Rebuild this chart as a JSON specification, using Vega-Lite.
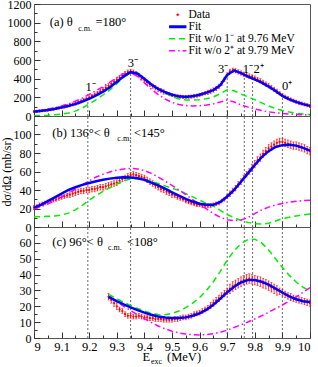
{
"$schema":"https://vega.github.io/schema/vega-lite/v6.json",
"background":"white",
"padding":{"left":-1,"right":0,"top":-3,"bottom":0},
"spacing":0,
"bounds":"flush",
"resolve":{"scale":{"color":"independent","strokeDash":"independent"},"legend":{"color":"independent","strokeDash":"independent"}},
"config":{"font":"Liberation Serif","view":{"stroke":"#555","strokeWidth":1},
"axis":{"domain":false,"grid":false,"labelFont":"Liberation Serif","labelFontSize":12,"labelColor":"#000","tickColor":"#333","titleFont":"Liberation Serif","titleFontSize":12,"titleFontWeight":"normal","titleColor":"#000"},
"text":{"font":"Liberation Serif","color":"#000"}},
"datasets":{
"da":[{"x":9.00,"y":48,"e":12},{"x":9.01,"y":50,"e":12},{"x":9.02,"y":53,"e":12},{"x":9.03,"y":57,"e":12},{"x":9.04,"y":60,"e":12},{"x":9.05,"y":64,"e":12},{"x":9.06,"y":68,"e":12},{"x":9.07,"y":73,"e":12},{"x":9.08,"y":80,"e":12},{"x":9.09,"y":86,"e":12},{"x":9.10,"y":93,"e":12},{"x":9.11,"y":101,"e":17},{"x":9.12,"y":108,"e":17},{"x":9.13,"y":116,"e":17},{"x":9.14,"y":124,"e":17},{"x":9.15,"y":134,"e":17},{"x":9.16,"y":145,"e":17},{"x":9.17,"y":157,"e":17},{"x":9.18,"y":170,"e":17},{"x":9.19,"y":183,"e":17},{"x":9.20,"y":198,"e":17},{"x":9.21,"y":213,"e":17},{"x":9.22,"y":230,"e":17},{"x":9.23,"y":246,"e":17},{"x":9.24,"y":264,"e":23},{"x":9.25,"y":283,"e":23},{"x":9.26,"y":303,"e":23},{"x":9.27,"y":323,"e":23},{"x":9.28,"y":345,"e":23},{"x":9.29,"y":368,"e":23},{"x":9.30,"y":390,"e":23},{"x":9.31,"y":412,"e":23},{"x":9.32,"y":434,"e":23},{"x":9.33,"y":455,"e":23},{"x":9.34,"y":470,"e":23},{"x":9.35,"y":478,"e":23},{"x":9.36,"y":470,"e":23},{"x":9.37,"y":455,"e":23},{"x":9.38,"y":432,"e":23},{"x":9.39,"y":408,"e":23},{"x":9.40,"y":386,"e":23},{"x":9.41,"y":362,"e":23},{"x":9.42,"y":340,"e":23},{"x":9.43,"y":320,"e":23},{"x":9.44,"y":302,"e":23},{"x":9.45,"y":286,"e":23},{"x":9.46,"y":272,"e":23},{"x":9.47,"y":258,"e":23},{"x":9.48,"y":246,"e":17},{"x":9.49,"y":236,"e":17},{"x":9.50,"y":226,"e":17},{"x":9.51,"y":218,"e":17},{"x":9.52,"y":212,"e":17},{"x":9.53,"y":208,"e":17},{"x":9.54,"y":205,"e":17},{"x":9.55,"y":204,"e":17},{"x":9.56,"y":206,"e":17},{"x":9.57,"y":208,"e":17},{"x":9.58,"y":212,"e":17},{"x":9.59,"y":218,"e":17},{"x":9.60,"y":226,"e":17},{"x":9.61,"y":234,"e":17},{"x":9.62,"y":244,"e":17},{"x":9.63,"y":254,"e":23},{"x":9.64,"y":265,"e":23},{"x":9.65,"y":278,"e":23},{"x":9.66,"y":295,"e":23},{"x":9.67,"y":316,"e":23},{"x":9.68,"y":348,"e":23},{"x":9.69,"y":392,"e":23},{"x":9.70,"y":440,"e":23},{"x":9.71,"y":478,"e":23},{"x":9.72,"y":490,"e":23},{"x":9.73,"y":484,"e":23},{"x":9.74,"y":472,"e":23},{"x":9.75,"y":460,"e":23},{"x":9.76,"y":448,"e":23},{"x":9.77,"y":437,"e":23},{"x":9.78,"y":428,"e":23},{"x":9.79,"y":418,"e":23},{"x":9.80,"y":406,"e":23},{"x":9.81,"y":392,"e":23},{"x":9.82,"y":377,"e":23},{"x":9.83,"y":360,"e":23},{"x":9.84,"y":342,"e":23},{"x":9.85,"y":324,"e":23},{"x":9.86,"y":305,"e":23},{"x":9.87,"y":285,"e":23},{"x":9.88,"y":265,"e":23},{"x":9.89,"y":244,"e":17},{"x":9.90,"y":224,"e":17},{"x":9.91,"y":206,"e":17},{"x":9.92,"y":191,"e":17},{"x":9.93,"y":177,"e":17},{"x":9.94,"y":165,"e":17},{"x":9.95,"y":153,"e":17},{"x":9.96,"y":142,"e":17},{"x":9.97,"y":133,"e":17},{"x":9.98,"y":124,"e":17},{"x":9.99,"y":116,"e":17},{"x":10.00,"y":108,"e":17}],
"db":[{"x":9.00,"y":21,"e":2},{"x":9.01,"y":22,"e":2},{"x":9.02,"y":24,"e":2},{"x":9.03,"y":25,"e":2},{"x":9.04,"y":26,"e":2},{"x":9.05,"y":27,"e":2},{"x":9.06,"y":28,"e":2},{"x":9.07,"y":29,"e":2},{"x":9.08,"y":30,"e":2},{"x":9.09,"y":31,"e":2},{"x":9.10,"y":32,"e":2},{"x":9.11,"y":33,"e":2},{"x":9.12,"y":34,"e":2},{"x":9.13,"y":35,"e":3},{"x":9.14,"y":36,"e":3},{"x":9.15,"y":37,"e":3},{"x":9.16,"y":38,"e":3},{"x":9.17,"y":39,"e":3},{"x":9.18,"y":39,"e":3},{"x":9.19,"y":40,"e":3},{"x":9.20,"y":40,"e":3},{"x":9.21,"y":41,"e":3},{"x":9.22,"y":41,"e":3},{"x":9.23,"y":42,"e":3},{"x":9.24,"y":43,"e":3},{"x":9.25,"y":43,"e":3},{"x":9.26,"y":44,"e":3},{"x":9.27,"y":45,"e":3},{"x":9.28,"y":46,"e":3},{"x":9.29,"y":47,"e":3},{"x":9.30,"y":48,"e":3},{"x":9.31,"y":50,"e":3},{"x":9.32,"y":52,"e":3},{"x":9.33,"y":53,"e":3},{"x":9.34,"y":55,"e":3},{"x":9.35,"y":56,"e":3},{"x":9.36,"y":57,"e":3},{"x":9.37,"y":56,"e":3},{"x":9.38,"y":55,"e":3},{"x":9.39,"y":54,"e":3},{"x":9.40,"y":53,"e":3},{"x":9.41,"y":51,"e":3},{"x":9.42,"y":49,"e":3},{"x":9.43,"y":47,"e":3},{"x":9.44,"y":45,"e":3},{"x":9.45,"y":43,"e":3},{"x":9.46,"y":41,"e":3},{"x":9.47,"y":40,"e":3},{"x":9.48,"y":38,"e":3},{"x":9.49,"y":37,"e":3},{"x":9.50,"y":35,"e":3},{"x":9.51,"y":34,"e":2},{"x":9.52,"y":32,"e":2},{"x":9.53,"y":31,"e":2},{"x":9.54,"y":30,"e":2},{"x":9.55,"y":28,"e":2},{"x":9.56,"y":27,"e":2},{"x":9.57,"y":26,"e":2},{"x":9.58,"y":25,"e":2},{"x":9.59,"y":24,"e":2},{"x":9.60,"y":24,"e":2},{"x":9.61,"y":23,"e":2},{"x":9.62,"y":23,"e":2},{"x":9.63,"y":23,"e":2},{"x":9.64,"y":23,"e":2},{"x":9.65,"y":24,"e":2},{"x":9.66,"y":25,"e":2},{"x":9.67,"y":26,"e":2},{"x":9.68,"y":28,"e":2},{"x":9.69,"y":30,"e":2},{"x":9.70,"y":33,"e":2},{"x":9.71,"y":36,"e":3},{"x":9.72,"y":39,"e":3},{"x":9.73,"y":42,"e":3},{"x":9.74,"y":46,"e":3},{"x":9.75,"y":49,"e":3},{"x":9.76,"y":53,"e":3},{"x":9.77,"y":57,"e":3},{"x":9.78,"y":60,"e":3},{"x":9.79,"y":64,"e":4},{"x":9.80,"y":68,"e":4},{"x":9.81,"y":72,"e":4},{"x":9.82,"y":75,"e":4},{"x":9.83,"y":79,"e":4},{"x":9.84,"y":82,"e":4},{"x":9.85,"y":85,"e":4},{"x":9.86,"y":87,"e":4},{"x":9.87,"y":89,"e":4},{"x":9.88,"y":91,"e":4},{"x":9.89,"y":92,"e":4},{"x":9.90,"y":92,"e":4},{"x":9.91,"y":91,"e":4},{"x":9.92,"y":90,"e":4},{"x":9.93,"y":89,"e":4},{"x":9.94,"y":88,"e":4},{"x":9.95,"y":88,"e":4},{"x":9.96,"y":87,"e":4},{"x":9.97,"y":86,"e":4},{"x":9.98,"y":85,"e":4},{"x":9.99,"y":83,"e":4},{"x":10.00,"y":82,"e":4}],
"dc":[{"x":9.27,"y":26,"e":2},{"x":9.28,"y":24,"e":2},{"x":9.29,"y":22,"e":2},{"x":9.30,"y":20,"e":2},{"x":9.31,"y":18,"e":1.5},{"x":9.32,"y":17,"e":1.5},{"x":9.33,"y":15,"e":1.5},{"x":9.34,"y":14,"e":1.5},{"x":9.35,"y":14,"e":1.5},{"x":9.36,"y":13.5,"e":1.5},{"x":9.37,"y":13.5,"e":1.5},{"x":9.38,"y":14,"e":1.5},{"x":9.39,"y":13.5,"e":1.5},{"x":9.40,"y":13,"e":1.5},{"x":9.41,"y":13,"e":1.5},{"x":9.42,"y":12.5,"e":1.5},{"x":9.43,"y":12.5,"e":1.5},{"x":9.44,"y":12,"e":1.5},{"x":9.45,"y":12,"e":1.5},{"x":9.46,"y":12,"e":1.5},{"x":9.47,"y":11.5,"e":1.5},{"x":9.48,"y":11.5,"e":1.5},{"x":9.49,"y":11.5,"e":1.5},{"x":9.50,"y":11.5,"e":1.5},{"x":9.51,"y":12,"e":1.5},{"x":9.52,"y":12,"e":1.5},{"x":9.53,"y":12.5,"e":1.5},{"x":9.54,"y":13,"e":1.5},{"x":9.55,"y":13,"e":1.5},{"x":9.56,"y":13.5,"e":1.5},{"x":9.57,"y":14,"e":1.5},{"x":9.58,"y":15,"e":1.5},{"x":9.59,"y":15.5,"e":1.5},{"x":9.60,"y":16,"e":1.5},{"x":9.61,"y":17,"e":1.5},{"x":9.62,"y":18,"e":1.5},{"x":9.63,"y":19,"e":1.5},{"x":9.64,"y":20.5,"e":2},{"x":9.65,"y":22,"e":2},{"x":9.66,"y":23.5,"e":2},{"x":9.67,"y":25,"e":2},{"x":9.68,"y":26.5,"e":2},{"x":9.69,"y":28,"e":2},{"x":9.70,"y":29.5,"e":2},{"x":9.71,"y":31,"e":3},{"x":9.72,"y":32.5,"e":3},{"x":9.73,"y":33.5,"e":3},{"x":9.74,"y":34.5,"e":3},{"x":9.75,"y":35.5,"e":3},{"x":9.76,"y":36.5,"e":3},{"x":9.77,"y":37,"e":3},{"x":9.78,"y":37.5,"e":3},{"x":9.79,"y":37,"e":3},{"x":9.80,"y":36.5,"e":3},{"x":9.81,"y":36,"e":3},{"x":9.82,"y":35.5,"e":3},{"x":9.83,"y":34.5,"e":3},{"x":9.84,"y":34,"e":3},{"x":9.85,"y":33,"e":3},{"x":9.86,"y":32,"e":3},{"x":9.87,"y":31,"e":3},{"x":9.88,"y":30,"e":3},{"x":9.89,"y":29.5,"e":2},{"x":9.90,"y":28.5,"e":2},{"x":9.91,"y":27.5,"e":2},{"x":9.92,"y":26.5,"e":2},{"x":9.93,"y":26,"e":2},{"x":9.94,"y":25,"e":2},{"x":9.95,"y":24.5,"e":2},{"x":9.96,"y":24,"e":2},{"x":9.97,"y":23.5,"e":2},{"x":9.98,"y":23,"e":2},{"x":9.99,"y":22.5,"e":2},{"x":10.00,"y":22,"e":2}],
"ca":[{"x":9.000,"Fit":46,"w1":3,"w2":50},{"x":9.025,"Fit":55,"w1":5,"w2":60},{"x":9.050,"Fit":64,"w1":8,"w2":72},{"x":9.075,"Fit":76,"w1":13,"w2":88},{"x":9.100,"Fit":92,"w1":20,"w2":108},{"x":9.125,"Fit":108,"w1":32,"w2":130},{"x":9.150,"Fit":128,"w1":52,"w2":158},{"x":9.175,"Fit":155,"w1":85,"w2":192},{"x":9.200,"Fit":185,"w1":128,"w2":232},{"x":9.225,"Fit":220,"w1":175,"w2":272},{"x":9.250,"Fit":260,"w1":225,"w2":316},{"x":9.275,"Fit":308,"w1":280,"w2":362},{"x":9.300,"Fit":365,"w1":345,"w2":410},{"x":9.325,"Fit":425,"w1":415,"w2":452},{"x":9.350,"Fit":470,"w1":460,"w2":462},{"x":9.375,"Fit":455,"w1":452,"w2":425},{"x":9.400,"Fit":398,"w1":402,"w2":355},{"x":9.425,"Fit":338,"w1":342,"w2":288},{"x":9.450,"Fit":290,"w1":290,"w2":230},{"x":9.475,"Fit":255,"w1":245,"w2":182},{"x":9.500,"Fit":228,"w1":208,"w2":146},{"x":9.525,"Fit":210,"w1":183,"w2":123},{"x":9.550,"Fit":205,"w1":172,"w2":112},{"x":9.575,"Fit":212,"w1":170,"w2":108},{"x":9.600,"Fit":228,"w1":175,"w2":110},{"x":9.625,"Fit":250,"w1":185,"w2":118},{"x":9.650,"Fit":278,"w1":205,"w2":130},{"x":9.675,"Fit":330,"w1":240,"w2":150},{"x":9.700,"Fit":440,"w1":280,"w2":172},{"x":9.725,"Fit":488,"w1":270,"w2":150},{"x":9.750,"Fit":460,"w1":235,"w2":120},{"x":9.775,"Fit":422,"w1":205,"w2":95},{"x":9.800,"Fit":392,"w1":175,"w2":75},{"x":9.825,"Fit":357,"w1":140,"w2":58},{"x":9.850,"Fit":316,"w1":108,"w2":45},{"x":9.875,"Fit":268,"w1":80,"w2":35},{"x":9.900,"Fit":215,"w1":58,"w2":28},{"x":9.925,"Fit":178,"w1":42,"w2":22},{"x":9.950,"Fit":150,"w1":30,"w2":17},{"x":9.975,"Fit":127,"w1":21,"w2":13},{"x":10.000,"Fit":108,"w1":15,"w2":10}],
"cb":[{"x":9.000,"Fit":21,"w1":11,"w2":20},{"x":9.025,"Fit":24,"w1":11,"w2":22},{"x":9.050,"Fit":28,"w1":11.5,"w2":25},{"x":9.075,"Fit":32,"w1":12,"w2":28.5},{"x":9.100,"Fit":36,"w1":13,"w2":32.5},{"x":9.125,"Fit":40,"w1":15,"w2":36.5},{"x":9.150,"Fit":43,"w1":18.5,"w2":41},{"x":9.175,"Fit":45.5,"w1":23.5,"w2":45.5},{"x":9.200,"Fit":47.5,"w1":29,"w2":50},{"x":9.225,"Fit":49.5,"w1":34,"w2":54},{"x":9.250,"Fit":51,"w1":38.5,"w2":57},{"x":9.275,"Fit":52.3,"w1":42.5,"w2":59.5},{"x":9.300,"Fit":53.2,"w1":46.5,"w2":61.5},{"x":9.325,"Fit":53.7,"w1":50,"w2":62.8},{"x":9.350,"Fit":53.6,"w1":52,"w2":63.3},{"x":9.375,"Fit":52.8,"w1":52.5,"w2":62.8},{"x":9.400,"Fit":51,"w1":51.5,"w2":61},{"x":9.425,"Fit":48,"w1":49.5,"w2":58},{"x":9.450,"Fit":45,"w1":47,"w2":54},{"x":9.475,"Fit":41.5,"w1":44.5,"w2":49.5},{"x":9.500,"Fit":37.5,"w1":42,"w2":45},{"x":9.525,"Fit":34,"w1":39.5,"w2":40},{"x":9.550,"Fit":30.5,"w1":36,"w2":35},{"x":9.575,"Fit":27.5,"w1":32.5,"w2":29.5},{"x":9.600,"Fit":25.2,"w1":29,"w2":24.5},{"x":9.625,"Fit":24,"w1":25.5,"w2":19.5},{"x":9.650,"Fit":24,"w1":22.5,"w2":14.5},{"x":9.675,"Fit":27,"w1":18,"w2":10.5},{"x":9.700,"Fit":33,"w1":13.5,"w2":7.8},{"x":9.725,"Fit":40,"w1":10,"w2":6.8},{"x":9.750,"Fit":49,"w1":7,"w2":7.5},{"x":9.775,"Fit":58,"w1":5,"w2":10},{"x":9.800,"Fit":67,"w1":3.5,"w2":14.5},{"x":9.825,"Fit":75.5,"w1":3.2,"w2":18.5},{"x":9.850,"Fit":82,"w1":4,"w2":21.5},{"x":9.875,"Fit":86.5,"w1":6.5,"w2":23.8},{"x":9.900,"Fit":88.5,"w1":9,"w2":25.5},{"x":9.925,"Fit":89,"w1":10.5,"w2":26.8},{"x":9.950,"Fit":88,"w1":12,"w2":27.8},{"x":9.975,"Fit":85.5,"w1":13,"w2":28.5},{"x":10.000,"Fit":82.5,"w1":14,"w2":29}],
"cc":[{"x":9.270,"Fit":26,"w1":27.5,"w2":26},{"x":9.300,"Fit":23.3,"w1":24.8,"w2":22.8},{"x":9.325,"Fit":21.2,"w1":22.5,"w2":20},{"x":9.350,"Fit":19.3,"w1":20.5,"w2":17.3},{"x":9.375,"Fit":17.6,"w1":18.6,"w2":14.7},{"x":9.400,"Fit":16,"w1":17,"w2":12.2},{"x":9.425,"Fit":14.7,"w1":15.6,"w2":9.8},{"x":9.450,"Fit":13.6,"w1":14.8,"w2":7.6},{"x":9.475,"Fit":12.9,"w1":14.6,"w2":5.8},{"x":9.500,"Fit":12.6,"w1":15.5,"w2":4.3},{"x":9.525,"Fit":12.6,"w1":17,"w2":3.2},{"x":9.550,"Fit":13,"w1":19.2,"w2":2.5},{"x":9.575,"Fit":14,"w1":22,"w2":2},{"x":9.600,"Fit":15.5,"w1":25.5,"w2":1.9},{"x":9.625,"Fit":17.8,"w1":30,"w2":2.1},{"x":9.650,"Fit":21,"w1":35.5,"w2":2.7},{"x":9.675,"Fit":24.8,"w1":42,"w2":3.6},{"x":9.700,"Fit":28.8,"w1":49,"w2":5},{"x":9.725,"Fit":32.3,"w1":55,"w2":6.6},{"x":9.750,"Fit":35,"w1":59.5,"w2":8.3},{"x":9.775,"Fit":36.5,"w1":62,"w2":10.1},{"x":9.800,"Fit":36.6,"w1":62.3,"w2":12},{"x":9.825,"Fit":35.5,"w1":60,"w2":14},{"x":9.850,"Fit":33.6,"w1":55.5,"w2":16.2},{"x":9.875,"Fit":31.2,"w1":50,"w2":18.5},{"x":9.900,"Fit":28.7,"w1":44.5,"w2":20.8},{"x":9.925,"Fit":26.3,"w1":39.5,"w2":23.3},{"x":9.950,"Fit":24.4,"w1":35.3,"w2":26},{"x":9.975,"Fit":23.2,"w1":32,"w2":28.8},{"x":10.000,"Fit":22.7,"w1":29.6,"w2":31.7}],
"ra":[{"x":9.195,"y":0,"top":243},{"x":9.35,"y":0,"top":495},{"x":9.70,"y":0,"top":425},{"x":9.762,"y":0,"top":440},{"x":9.792,"y":0,"top":440},{"x":9.90,"y":0,"top":245}],
"rb":[{"x":9.195,"y":0,"top":120},{"x":9.35,"y":0,"top":120},{"x":9.70,"y":0,"top":120},{"x":9.762,"y":0,"top":120},{"x":9.792,"y":0,"top":120},{"x":9.90,"y":0,"top":120}],
"rc":[{"x":9.195,"y":0,"top":70},{"x":9.35,"y":0,"top":70},{"x":9.70,"y":0,"top":70},{"x":9.762,"y":0,"top":70},{"x":9.792,"y":0,"top":70},{"x":9.90,"y":0,"top":70}],
"ta":[{"x":9.057,"y":964,"t":"(a) θ"},{"x":9.223,"y":964,"t":"=180°"},{"x":9.187,"y":272,"t":"1⁻"},{"x":9.340,"y":525,"t":"3⁻"},{"x":9.667,"y":462,"t":"3⁻"},{"x":9.756,"y":457,"t":"1⁻"},{"x":9.795,"y":457,"t":"2⁺"},{"x":9.899,"y":278,"t":"0⁺"}],
"sa":[{"x":9.160,"y":913,"t":"c.m."}],
"tb":[{"x":9.066,"y":97,"t":"(b) 136°< θ"},{"x":9.362,"y":97,"t":"<145°"}],
"sb":[{"x":9.302,"y":92.5,"t":"c.m."}],
"tc":[{"x":9.066,"y":58,"t":"(c) 96°< θ"},{"x":9.337,"y":58,"t":"<108°"},{"x":9.393,"y":-14.3,"t":"E"},{"x":9.482,"y":-14.3,"t":"(MeV)"}],
"sc":[{"x":9.268,"y":55.5,"t":"c.m."},{"x":9.424,"y":-16.2,"t":"exc"}]
},
"vconcat":[
{"width":276,"height":112,
"encoding":{
"x":{"field":"x","type":"quantitative","scale":{"domain":[9,10],"nice":false,"zero":false},"axis":{"values":[9,9.05,9.1,9.15,9.2,9.25,9.3,9.35,9.4,9.45,9.5,9.55,9.6,9.65,9.7,9.75,9.8,9.85,9.9,9.95,10],"labels":false,"title":null,"tickSize":{"condition":{"test":"abs(datum.value*10-round(datum.value*10))<0.01","value":-6},"value":-3}}},
"y":{"field":"y","type":"quantitative","scale":{"domain":[0,1200],"nice":false,"zero":false},"axis":{"values":[0,100,200,300,400,500,600,700,800,900,1000,1100,1200],"format":"d","labelExpr":"datum.value % 200 == 0 ? datum.label : ''","tickSize":{"condition":{"test":"datum.value % 200 == 0","value":-6},"value":-3},"labelPadding":9,"title":null}}},
"layer":[
{"data":{"name":"ra"},"mark":{"type":"rule","color":"#444","strokeDash":[2,2],"strokeWidth":0.8},"encoding":{"y2":{"field":"top"}}},
{"data":{"name":"da"},"mark":{"type":"errorbar","color":"#ff0000","thickness":0.8,"ticks":{"size":2,"thickness":0.8,"color":"#ff0000"}},"encoding":{"yError":{"field":"e"}}},
{"data":{"name":"da"},"mark":{"type":"circle","color":"#ff0000","size":5,"opacity":1}},
{"data":{"name":"ca"},"transform":[{"fold":["w1","w2"],"as":["s","y"]}],"mark":{"type":"line","strokeWidth":1.5},
"encoding":{"color":{"field":"s","type":"nominal","scale":{"domain":["Data","Fit","w1","w2"],"range":["#ff0000","#0000ff","#00ee00","#ff00ff"]},"legend":{"orient":"none","legendX":138,"legendY":5,"title":null,"padding":0,"labelFont":"Liberation Serif","labelFontSize":11.5,"labelColor":"#000","labelOffset":5,"rowPadding":-1.5,"symbolType":"stroke","symbolSize":300,"labelExpr":"datum.label == 'w1' ? 'Fit w/o 1⁻ at 9.76 MeV' : datum.label == 'w2' ? 'Fit w/o 2⁺ at 9.79 MeV' : datum.label","encode":{"symbols":{"update":{"shape":{"signal":"datum.value === 'Data' ? 'circle' : 'stroke'"},"size":{"signal":"datum.value === 'Data' ? 5 : 300"},"strokeWidth":{"signal":"datum.value === 'Fit' ? 3 : datum.value === 'Data' ? 0.5 : 1.5"},"fill":{"signal":"datum.value === 'Data' ? '#ff0000' : 'transparent'"}}}}}},
"strokeDash":{"field":"s","type":"nominal","scale":{"domain":["Data","Fit","w1","w2"],"range":[[1,0],[1,0],[6,4],[6,3,1.5,3]]},"legend":{"orient":"none","legendX":138,"legendY":5,"title":null}}}},
{"data":{"name":"ca"},"transform":[{"fold":["Fit"],"as":["s","y"]}],"mark":{"type":"line","strokeWidth":2.5},
"encoding":{"color":{"field":"s","type":"nominal","scale":{"domain":["Data","Fit","w1","w2"],"range":["#ff0000","#0000ff","#00ee00","#ff00ff"]}},"strokeDash":{"field":"s","type":"nominal","scale":{"domain":["Data","Fit","w1","w2"],"range":[[1,0],[1,0],[6,4],[6,3,1.5,3]]}}}},
{"data":{"name":"ta"},"mark":{"type":"text","align":"left","baseline":"alphabetic","fontSize":12.5},"encoding":{"text":{"field":"t"}}},
{"data":{"name":"sa"},"mark":{"type":"text","align":"left","baseline":"alphabetic","fontSize":8},"encoding":{"text":{"field":"t"}}}
]},
{"width":276,"height":111,
"encoding":{
"x":{"field":"x","type":"quantitative","scale":{"domain":[9,10],"nice":false,"zero":false},"axis":{"values":[9,9.05,9.1,9.15,9.2,9.25,9.3,9.35,9.4,9.45,9.5,9.55,9.6,9.65,9.7,9.75,9.8,9.85,9.9,9.95,10],"labels":false,"title":null,"tickSize":{"condition":{"test":"abs(datum.value*10-round(datum.value*10))<0.01","value":-6},"value":-3}}},
"y":{"field":"y","type":"quantitative","scale":{"domain":[0,120],"nice":false,"zero":false},"axis":{"values":[0,10,20,30,40,50,60,70,80,90,100,110,120],"format":"d","labelExpr":"datum.value % 20 == 0 && datum.value < 120 ? datum.label : ''","tickSize":{"condition":{"test":"datum.value % 20 == 0","value":-6},"value":-3},"labelPadding":9,"title":"dσ/dΩ (mb/sr)","titlePadding":0}}},
"layer":[
{"data":{"name":"rb"},"mark":{"type":"rule","color":"#444","strokeDash":[2,2],"strokeWidth":0.8},"encoding":{"y2":{"field":"top"}}},
{"data":{"name":"db"},"mark":{"type":"errorbar","color":"#ff0000","thickness":0.8,"ticks":{"size":2,"thickness":0.8,"color":"#ff0000"}},"encoding":{"yError":{"field":"e"}}},
{"data":{"name":"db"},"mark":{"type":"circle","color":"#ff0000","size":5,"opacity":1}},
{"data":{"name":"cb"},"transform":[{"fold":["w1"],"as":["s","y"]}],"mark":{"type":"line","strokeWidth":1.5,"color":"#00ee00","strokeDash":[6,4]}},
{"data":{"name":"cb"},"transform":[{"fold":["w2"],"as":["s","y"]}],"mark":{"type":"line","strokeWidth":1.5,"color":"#ff00ff","strokeDash":[6,3,1.5,3]}},
{"data":{"name":"cb"},"transform":[{"fold":["Fit"],"as":["s","y"]}],"mark":{"type":"line","strokeWidth":2.5,"color":"#0000ff"}},
{"data":{"name":"tb"},"mark":{"type":"text","align":"left","baseline":"alphabetic","fontSize":12.5},"encoding":{"text":{"field":"t"}}},
{"data":{"name":"sb"},"mark":{"type":"text","align":"left","baseline":"alphabetic","fontSize":8},"encoding":{"text":{"field":"t"}}}
]},
{"width":276,"height":111,
"encoding":{
"x":{"field":"x","type":"quantitative","scale":{"domain":[9,10],"nice":false,"zero":false},"axis":{"values":[9,9.05,9.1,9.15,9.2,9.25,9.3,9.35,9.4,9.45,9.5,9.55,9.6,9.65,9.7,9.75,9.8,9.85,9.9,9.95,10],"format":"~g","labelExpr":"abs(datum.value*10-round(datum.value*10))<0.01 ? datum.label : ''","labelFontSize":12.5,"labelPadding":8,"title":null,"tickSize":{"condition":{"test":"abs(datum.value*10-round(datum.value*10))<0.01","value":-6},"value":-3}}},
"y":{"field":"y","type":"quantitative","scale":{"domain":[0,70],"nice":false,"zero":false},"axis":{"values":[0,5,10,15,20,25,30,35,40,45,50,55,60,65,70],"format":"d","labelExpr":"datum.value % 10 == 0 && datum.value < 70 ? datum.label : ''","tickSize":{"condition":{"test":"datum.value % 10 == 0","value":-6},"value":-3},"labelPadding":9,"title":null}}},
"layer":[
{"data":{"name":"rc"},"mark":{"type":"rule","color":"#444","strokeDash":[2,2],"strokeWidth":0.8},"encoding":{"y2":{"field":"top"}}},
{"data":{"name":"dc"},"mark":{"type":"errorbar","color":"#ff0000","thickness":0.8,"ticks":{"size":2,"thickness":0.8,"color":"#ff0000"}},"encoding":{"yError":{"field":"e"}}},
{"data":{"name":"dc"},"mark":{"type":"circle","color":"#ff0000","size":5,"opacity":1}},
{"data":{"name":"cc"},"transform":[{"fold":["w1"],"as":["s","y"]}],"mark":{"type":"line","strokeWidth":1.5,"color":"#00ee00","strokeDash":[6,4]}},
{"data":{"name":"cc"},"transform":[{"fold":["w2"],"as":["s","y"]}],"mark":{"type":"line","strokeWidth":1.5,"color":"#ff00ff","strokeDash":[6,3,1.5,3]}},
{"data":{"name":"cc"},"transform":[{"fold":["Fit"],"as":["s","y"]}],"mark":{"type":"line","strokeWidth":2.5,"color":"#0000ff"}},
{"data":{"name":"tc"},"mark":{"type":"text","align":"left","baseline":"alphabetic","fontSize":12.5},"encoding":{"text":{"field":"t"}}},
{"data":{"name":"sc"},"mark":{"type":"text","align":"left","baseline":"alphabetic","fontSize":8},"encoding":{"text":{"field":"t"}}}
]}
]
}
